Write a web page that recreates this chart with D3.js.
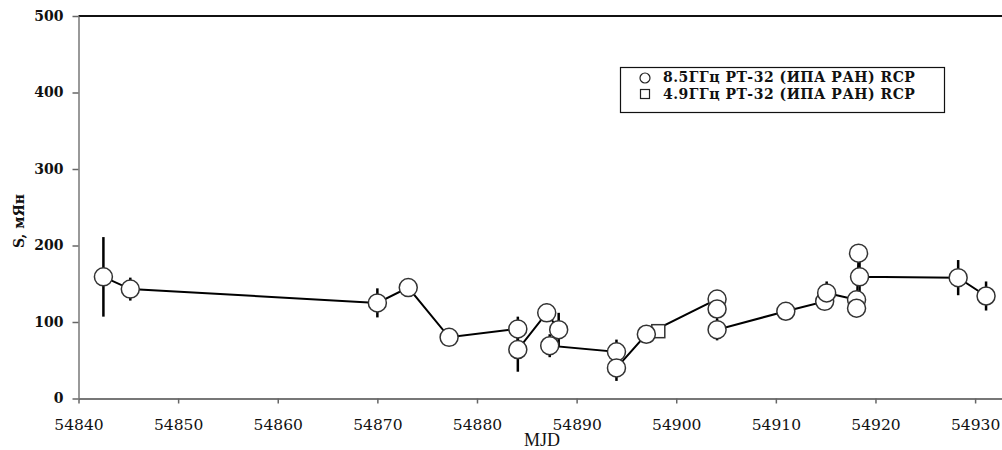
<!DOCTYPE html>
<html>
<head>
<meta charset="utf-8">
<script src="https://cdn.jsdelivr.net/npm/d3@7"></script>
<style>
  body { margin: 0; background: white; }
  svg { display: block; }
</style>
</head>
<body>
<script>
var width = 1002;
var height = 450;

// 8.5 GHz points, in the order the line joins them
var mjd85 = [54842.5, 54845.2, 54870.0, 54873.1, 54877.2, 54884.1, 54884.1, 54887.0, 54888.2, 54887.3,
             54894.0, 54894.0, 54897.0, 54904.1, 54904.1, 54904.1, 54911.0, 54914.9, 54915.1, 54918.1,
             54918.1, 54918.3, 54918.4, 54928.3, 54931.1];
var flux85 = [159, 143, 125, 145, 80, 91, 64, 112, 90, 69,
              61, 40, 84, 130, 117, 90, 114, 127, 138, 129,
              118, 190, 159, 158, 134];
var err85 = [52, 15, 19, 0, 0, 16, 29, 12, 22, 15,
             16, 17, 0, 0, 0, 14, 0, 0, 15, 0,
             0, 0, 24, 23, 19];

// 4.9 GHz point
var mjd49 = [54898.2];
var flux49 = [88];

var xTicks = [54840, 54850, 54860, 54870, 54880, 54890, 54900, 54910, 54920, 54930];
var yTicks = [0, 100, 200, 300, 400, 500];
var legendLabels = ["8.5ГГц РТ-32 (ИПА РАН) RCP", "4.9ГГц РТ-32 (ИПА РАН) RCP"];

var svg = d3.select("body")
    .append("svg")
    .attr("width", width)
    .attr("height", height)
    .style("background-color", "white");

var x = d3.scaleLinear()
    .domain([54840, 54932.7])
    .range([78.5, 1002]);

var y = d3.scaleLinear()
    .domain([0, 500])
    .range([398.5, 16]);

// top frame line
svg.append("line")
    .attr("x1", x(54840))
    .attr("x2", width)
    .attr("y1", y(500))
    .attr("y2", y(500))
    .attr("stroke", "#111")
    .attr("stroke-width", 2);

var xAxis = svg.append("g")
    .attr("transform", `translate(0, ${y(0)})`)
    .call(d3.axisBottom(x).tickValues(xTicks).tickSize(5).tickSizeOuter(0).tickFormat(d3.format("d")));

xAxis.select(".domain").attr("stroke", "#777").attr("stroke-width", 2);
xAxis.selectAll(".tick line").attr("stroke", "#666").attr("stroke-width", 1.5);
xAxis.selectAll(".tick text")
    .attr("y", 20)
    .attr("dy", "0.71em")
    .attr("fill", "#111")
    .attr("font-family", "DejaVu Serif")
    .attr("font-size", "15.5px");

var yAxis = svg.append("g")
    .attr("transform", `translate(${x(54840)}, 0)`)
    .call(d3.axisLeft(y).tickValues(yTicks).tickSize(6).tickSizeOuter(0).tickPadding(9));

yAxis.select(".domain").attr("stroke", "#777").attr("stroke-width", 1.5);
yAxis.selectAll(".tick line").attr("stroke", "#666").attr("stroke-width", 1.5);
yAxis.selectAll(".tick text")
    .attr("fill", "#111")
    .attr("font-family", "DejaVu Serif")
    .attr("font-weight", "bold")
    .attr("font-size", "14px");

// axis titles
svg.append("text")
    .attr("transform", "translate(24, 221) rotate(-90)")
    .attr("text-anchor", "middle")
    .attr("font-family", "DejaVu Serif")
    .attr("font-weight", "bold")
    .attr("font-size", "14px")
    .attr("fill", "#111")
    .text("S, мЯн");

svg.append("text")
    .attr("x", 542)
    .attr("y", 446)
    .attr("text-anchor", "middle")
    .attr("font-family", "Liberation Serif")
    .attr("font-size", "18px")
    .attr("fill", "#111")
    .text("MJD");

var points = mjd85.map(function(d, i) {
    return { mjd: d, flux: flux85[i], err: err85[i] };
});

// error bars
svg.append("g")
    .selectAll("line")
    .data(points.filter(function(p) { return p.err > 0; }))
    .join("line")
    .attr("x1", function(p) { return x(p.mjd); })
    .attr("x2", function(p) { return x(p.mjd); })
    .attr("y1", function(p) { return y(p.flux + p.err); })
    .attr("y2", function(p) { return y(p.flux - p.err); })
    .attr("stroke", "#000")
    .attr("stroke-width", 2.5);

var line = d3.line()
    .x(function(p) { return x(p.mjd); })
    .y(function(p) { return y(p.flux); });

svg.append("path")
    .datum(points)
    .attr("d", line)
    .attr("fill", "none")
    .attr("stroke", "#000")
    .attr("stroke-width", 2);

// 4.9 GHz square, behind the circles
svg.append("g")
    .selectAll("rect")
    .data(mjd49)
    .join("rect")
    .attr("x", function(d) { return x(d) - 6.5; })
    .attr("y", function(d, i) { return y(flux49[i]) - 6.5; })
    .attr("width", 13)
    .attr("height", 13)
    .attr("fill", "white")
    .attr("stroke", "#333")
    .attr("stroke-width", 1.5);

svg.append("g")
    .selectAll("circle")
    .data(points)
    .join("circle")
    .attr("cx", function(p) { return x(p.mjd); })
    .attr("cy", function(p) { return y(p.flux); })
    .attr("r", 9)
    .attr("fill", "white")
    .attr("stroke", "#333")
    .attr("stroke-width", 1.5);

// legend
var legend = svg.append("g");

legend.append("rect")
    .attr("x", 620.5)
    .attr("y", 67.5)
    .attr("width", 324)
    .attr("height", 45)
    .attr("fill", "white")
    .attr("stroke", "#111")
    .attr("stroke-width", 1.2);

legend.append("circle")
    .attr("cx", 645)
    .attr("cy", 78)
    .attr("r", 5)
    .attr("fill", "white")
    .attr("stroke", "#222")
    .attr("stroke-width", 1.2);

legend.append("rect")
    .attr("x", 640.5)
    .attr("y", 89.5)
    .attr("width", 9)
    .attr("height", 9)
    .attr("fill", "white")
    .attr("stroke", "#222")
    .attr("stroke-width", 1.2);

legend.selectAll("text")
    .data(legendLabels)
    .join("text")
    .attr("x", 663)
    .attr("y", function(d, i) { return 82 + i * 16.5; })
    .attr("font-family", "DejaVu Serif")
    .attr("font-weight", "bold")
    .attr("font-size", "14px")
    .attr("letter-spacing", "0.5px")
    .attr("fill", "#111")
    .text(function(d) { return d; });
</script>
</body>
</html>
